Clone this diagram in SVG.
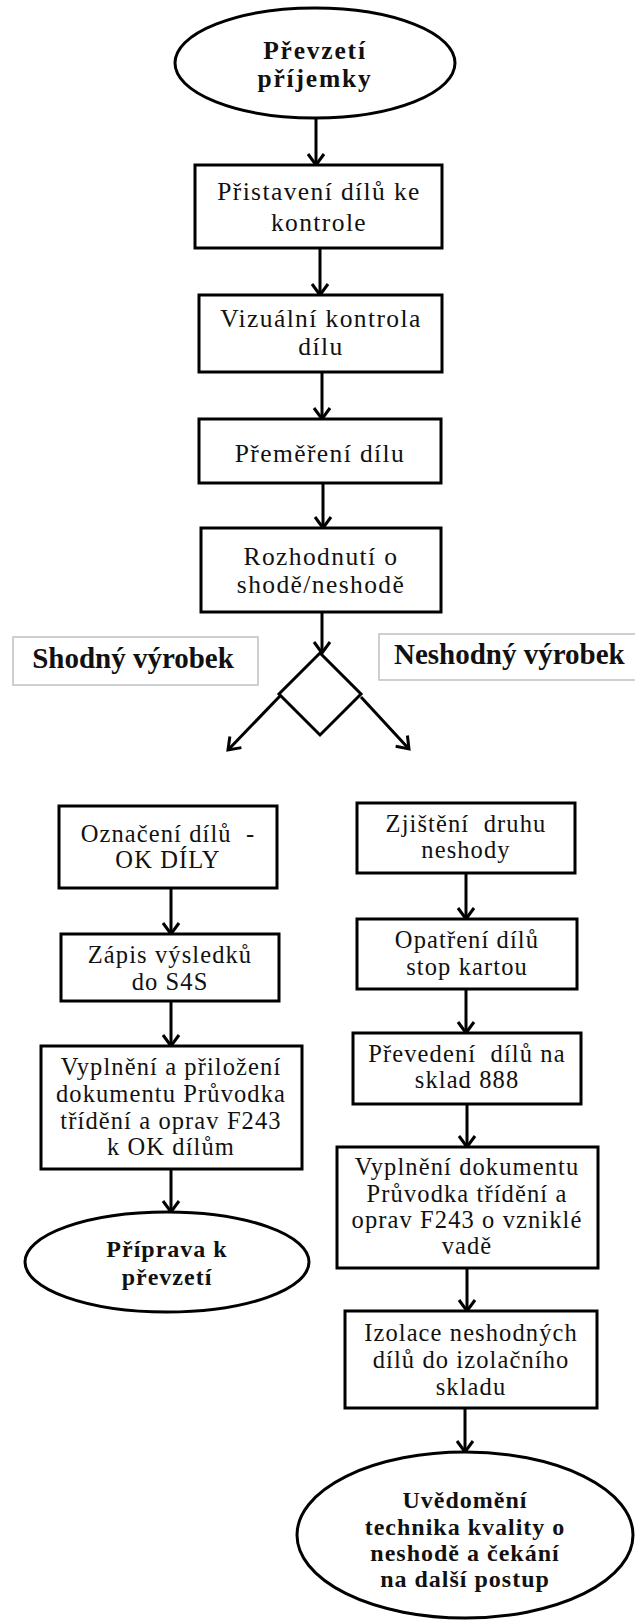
<svg xmlns="http://www.w3.org/2000/svg" width="635" height="1621" viewBox="0 0 635 1621">
<defs>
<marker id="arr" markerUnits="userSpaceOnUse" viewBox="-2 -11 16 22" markerWidth="16" markerHeight="22" refX="11" refY="0" orient="auto">
<path d="M0,-8 L11,0 L0,8" fill="none" stroke="#000" stroke-width="3" stroke-linejoin="miter"/>
</marker>
</defs>
<style>
.box{fill:#fff;stroke:#000;stroke-width:3}
.lbl{fill:#fff;stroke:#c0c0c0;stroke-width:1.5}
.t{font-family:"Liberation Serif","Times New Roman",serif;fill:#111;text-anchor:middle}
.r1{font-size:25.5px;letter-spacing:1.4px}
.r2{font-size:24.5px;letter-spacing:1.1px}
.b1{font-size:25.5px;font-weight:bold;letter-spacing:1.8px}
.lb{font-size:29px;font-weight:bold}
.b2{font-size:24px;font-weight:bold;letter-spacing:1px}
.con{fill:none;stroke:#000;stroke-width:3;marker-end:url(#arr)}
</style>
<rect width="635" height="1621" fill="#fff"/>

<g id="connectors">
<path class="con" d="M316,119 L316,165"/>
<path class="con" d="M320,248 L320,295"/>
<path class="con" d="M322,372 L322,419"/>
<path class="con" d="M323,483 L323,528"/>
<path class="con" d="M322,612 L322,653"/>
<path class="con" d="M280,696 L228,750"/>
<path class="con" d="M361,697 L409,749"/>
<path class="con" d="M171,888 L171,934"/>
<path class="con" d="M171,1001 L171,1046"/>
<path class="con" d="M171,1169 L171,1212"/>
<path class="con" d="M466,873 L466,919"/>
<path class="con" d="M466,989 L466,1033"/>
<path class="con" d="M467,1104 L467,1147"/>
<path class="con" d="M467,1268 L467,1311"/>
<path class="con" d="M465,1408 L465,1452"/>
</g>

<g id="start">
<ellipse cx="315" cy="63" rx="140" ry="55" class="box"/>
<text class="t b1" x="315" y="59">Převzetí</text>
<text class="t b1" x="315" y="87">příjemky</text>
</g>

<g id="n1">
<rect x="195" y="165" width="247" height="83" class="box"/>
<text class="t r1" x="319" y="200">Přistavení dílů ke</text>
<text class="t r1" x="319" y="231">kontrole</text>
</g>

<g id="n2">
<rect x="199" y="295" width="243" height="77" class="box"/>
<text class="t r1" x="321" y="327">Vizuální kontrola</text>
<text class="t r1" x="321" y="355">dílu</text>
</g>

<g id="n3">
<rect x="199" y="419" width="242" height="64" class="box"/>
<text class="t r1" x="320" y="462">Přeměření dílu</text>
</g>

<g id="n4">
<rect x="201" y="528" width="240" height="84" class="box"/>
<text class="t r1" x="321" y="565">Rozhodnutí o</text>
<text class="t r1" x="321" y="593">shodě/neshodě</text>
</g>

<g id="decision">
<path d="M320,653 L361,694 L320,735 L279,694 Z" class="box"/>
</g>

<g id="label-ok">
<rect x="13" y="637" width="245" height="48" class="lbl"/>
<text class="t lb" x="133" y="668">Shodný výrobek</text>
</g>

<g id="label-nok">
<rect x="379" y="634" width="270" height="46" class="lbl"/>
<text class="t lb" x="394" y="664" style="text-anchor:start">Neshodný výrobek</text>
</g>

<g id="l1">
<rect x="59" y="806" width="218" height="82" class="box"/>
<text class="t r2" x="168" y="842" xml:space="preserve">Označení dílů  -</text>
<text class="t r2" x="168" y="868">OK DÍLY</text>
</g>

<g id="l2">
<rect x="61" y="934" width="218" height="67" class="box"/>
<text class="t r2" x="170" y="963">Zápis výsledků</text>
<text class="t r2" x="170" y="990">do S4S</text>
</g>

<g id="l3">
<rect x="41" y="1046" width="261" height="123" class="box"/>
<text class="t r2" x="171" y="1075">Vyplnění a přiložení</text>
<text class="t r2" x="171" y="1102">dokumentu Průvodka</text>
<text class="t r2" x="171" y="1129">třídění a oprav F243</text>
<text class="t r2" x="171" y="1155">k OK dílům</text>
</g>

<g id="end-ok">
<ellipse cx="167" cy="1262" rx="142" ry="50" class="box"/>
<text class="t b2" x="167" y="1257">Příprava k</text>
<text class="t b2" x="167" y="1285">převzetí</text>
</g>

<g id="r1">
<rect x="357" y="803" width="218" height="70" class="box"/>
<text class="t r2" x="466" y="832" xml:space="preserve">Zjištění  druhu</text>
<text class="t r2" x="466" y="858">neshody</text>
</g>

<g id="r2">
<rect x="357" y="919" width="220" height="70" class="box"/>
<text class="t r2" x="467" y="948">Opatření dílů</text>
<text class="t r2" x="467" y="975">stop kartou</text>
</g>

<g id="r3">
<rect x="353" y="1033" width="228" height="71" class="box"/>
<text class="t r2" x="467" y="1062" xml:space="preserve">Převedení  dílů na</text>
<text class="t r2" x="467" y="1088">sklad 888</text>
</g>

<g id="r4">
<rect x="337" y="1147" width="261" height="121" class="box"/>
<text class="t r2" x="467" y="1175">Vyplnění dokumentu</text>
<text class="t r2" x="467" y="1202">Průvodka třídění a</text>
<text class="t r2" x="467" y="1228">oprav F243 o vzniklé</text>
<text class="t r2" x="467" y="1254">vadě</text>
</g>

<g id="r5">
<rect x="345" y="1311" width="252" height="97" class="box"/>
<text class="t r2" x="471" y="1341">Izolace neshodných</text>
<text class="t r2" x="471" y="1368">dílů do izolačního</text>
<text class="t r2" x="471" y="1395">skladu</text>
</g>

<g id="end-nok">
<ellipse cx="465" cy="1535" rx="168" ry="83" class="box"/>
<text class="t b2" x="465" y="1508">Uvědomění</text>
<text class="t b2" x="465" y="1535">technika kvality o</text>
<text class="t b2" x="465" y="1561">neshodě a čekání</text>
<text class="t b2" x="465" y="1587">na další postup</text>
</g>
</svg>
